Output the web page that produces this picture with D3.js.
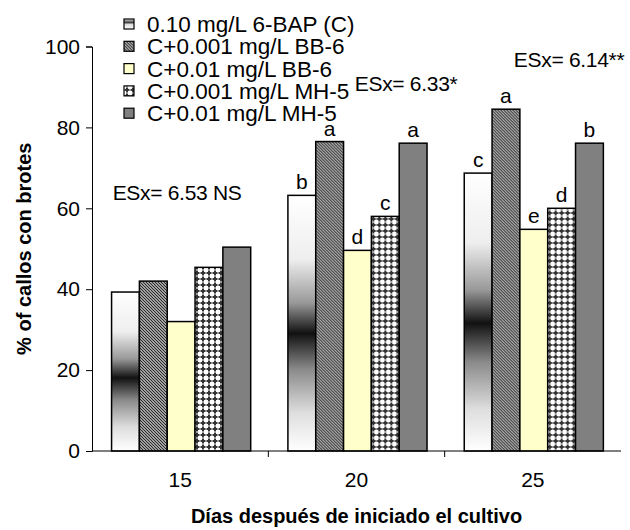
<!DOCTYPE html>
<html>
<head>
<meta charset="utf-8">
<script src="https://cdn.jsdelivr.net/npm/d3@7"></script>
<style>
  body { margin: 0; background: #fff; }
  svg { display: block; font-family: Arial, "Liberation Sans", sans-serif; }
</style>
</head>
<body>
<div id="chart"></div>
<script>
// data
const days = ['15', '20', '25'];
const seriesNames = [
    '0.10 mg/L 6-BAP (C)',
    'C+0.001 mg/L BB-6',
    'C+0.01 mg/L BB-6',
    'C+0.001 mg/L MH-5',
    'C+0.01 mg/L MH-5'
];
const bapC   = [39.3, 63.2, 68.7];
const bb6Low = [42.0, 76.5, 84.5];
const bb6Hi  = [32.0, 49.6, 54.8];
const mh5Low = [45.4, 58.0, 60.0];
const mh5Hi  = [50.4, 76.1, 76.1];
const seriesValues = [bapC, bb6Low, bb6Hi, mh5Low, mh5Hi];

// significance letters per series (index by day), '' = none
const letters = [
    ['', 'b', 'c'],
    ['', 'a', 'a'],
    ['', 'd', 'e'],
    ['', 'c', 'd'],
    ['', 'a', 'b']
];
const yTicks = [0, 20, 40, 60, 80, 100];
const esxLabels = ['ESx= 6.53 NS', 'ESx= 6.33*', 'ESx= 6.14**'];
const esxLevels = [62.0, 89.0, 94.9];   // baseline in y units
const esxOffsets = [0.117, 0.49, 0.392]; // fraction into the day band

const width = 630, height = 530;
const margin = { left: 92, right: 9, top: 46.5, bottom: 79 };

const svg = d3.select('#chart').append('svg')
    .attr('width', width)
    .attr('height', height);

const defs = svg.append('defs');

// white-black-white fill of the control bars
const grad = defs.append('linearGradient')
    .attr('id', 'gradC')
    .attr('x1', 0).attr('y1', 0).attr('x2', 0).attr('y2', 1);
[[0, '#ffffff'], [0.25, '#eeeeee'], [0.42, '#999999'], [0.54, '#111111'],
 [0.68, '#8a8a8a'], [0.85, '#dedede'], [1, '#ffffff']]
    .forEach(s => grad.append('stop').attr('offset', s[0]).attr('stop-color', s[1]));

const gradLeg = defs.append('linearGradient')
    .attr('id', 'gradLeg')
    .attr('x1', 0).attr('y1', 0).attr('x2', 0).attr('y2', 1);
[[0, '#ffffff'], [0.15, '#999999'], [0.35, '#444444'], [0.55, '#dddddd'], [1, '#ffffff']]
    .forEach(s => gradLeg.append('stop').attr('offset', s[0]).attr('stop-color', s[1]));

// fine diagonal hatch
const hatch = defs.append('pattern')
    .attr('id', 'hatch')
    .attr('width', 3).attr('height', 3)
    .attr('patternUnits', 'userSpaceOnUse');
hatch.append('rect').attr('width', 3).attr('height', 3).attr('fill', '#fff');
hatch.append('path')
    .attr('d', 'M-1,-1 L4,4 M-1,2 L1,4 M2,-1 L4,1')
    .attr('stroke', '#2a2a2a')
    .attr('stroke-width', 1.3);

// dotted grid
const dots = defs.append('pattern')
    .attr('id', 'dots')
    .attr('width', 6).attr('height', 6)
    .attr('patternUnits', 'userSpaceOnUse');
dots.append('rect').attr('width', 6).attr('height', 6).attr('fill', '#fff');
dots.append('path')
    .attr('d', 'M2,0.5 h2 v1.5 h1.5 v2 h-1.5 v1.5 h-2 v-1.5 h-1.5 v-2 h1.5 z')
    .attr('fill', '#333');

const fills = ['url(#gradC)', 'url(#hatch)', '#ffffcc', 'url(#dots)', '#808080'];
const legendFills = ['url(#gradLeg)', 'url(#hatch)', '#ffffcc', 'url(#dots)', '#808080'];

// scales
const x0 = d3.scaleBand()
    .domain(days)
    .range([margin.left, width - margin.right])
    .paddingInner(0)
    .paddingOuter(0);

const x1 = d3.scaleBand()
    .domain(d3.range(seriesNames.length))
    .range([x0.bandwidth() * 0.111, x0.bandwidth() * 0.9])
    .padding(0);

const y = d3.scaleLinear()
    .domain([0, 100])
    .range([height - margin.bottom, margin.top]);

// bars
const groups = svg.append('g').selectAll('g')
    .data(days)
    .join('g')
    .attr('transform', d => `translate(${x0(d)},0)`);

const cells = (d, i) => seriesValues.map((vals, s) => ({ s, v: vals[i], letter: letters[s][i] }));

groups.selectAll('rect')
    .data(cells)
    .join('rect')
    .attr('x', d => x1(d.s))
    .attr('y', d => y(d.v))
    .attr('width', x1.bandwidth())
    .attr('height', d => y(0) - y(d.v))
    .attr('fill', d => fills[d.s])
    .attr('stroke', '#000')
    .attr('stroke-width', 1.5);

groups.selectAll('text.letter')
    .data(cells)
    .join('text')
    .attr('class', 'letter')
    .attr('x', d => x1(d.s) + x1.bandwidth() / 2)
    .attr('y', d => y(d.v) - 6)
    .attr('text-anchor', 'middle')
    .style('font-size', '21px')
    .text(d => d.letter);

// y axis
const yAxis = svg.append('g')
    .attr('transform', `translate(${margin.left},0)`)
    .call(d3.axisLeft(y).tickValues(yTicks).tickSize(6).tickPadding(6));
yAxis.select('.domain').attr('stroke', '#000').attr('stroke-width', 1);
yAxis.selectAll('text').style('font-size', '21px').attr('fill', '#000');

// x axis: line, boundary ticks, centred labels
const xAxis = svg.append('g');
xAxis.append('line')
    .attr('x1', margin.left).attr('x2', width - margin.right)
    .attr('y1', y(0)).attr('y2', y(0))
    .attr('stroke', '#000');
xAxis.selectAll('line.tick')
    .data(days.slice(1))
    .join('line')
    .attr('class', 'tick')
    .attr('x1', d => x0(d))
    .attr('x2', d => x0(d))
    .attr('y1', y(0)).attr('y2', y(0) + 6)
    .attr('stroke', '#000');
xAxis.selectAll('text')
    .data(days)
    .join('text')
    .attr('x', d => x0(d) + x0.bandwidth() / 2)
    .attr('y', y(0) + 36)
    .attr('text-anchor', 'middle')
    .style('font-size', '21px')
    .text(d => d);

// axis titles
svg.append('text')
    .attr('x', (margin.left + width - margin.right) / 2)
    .attr('y', 523)
    .attr('text-anchor', 'middle')
    .style('font-size', '20px')
    .style('font-weight', 'bold')
    .text('Días después de iniciado el cultivo');

svg.append('text')
    .attr('transform', `translate(31,${(y(0) + y(100)) / 2}) rotate(-90)`)
    .attr('text-anchor', 'middle')
    .style('font-size', '20px')
    .style('font-weight', 'bold')
    .text('% of callos con brotes');

// ESx annotations
svg.append('g').selectAll('text')
    .data(days)
    .join('text')
    .attr('x', (d, i) => x0(d) + x0.bandwidth() * esxOffsets[i])
    .attr('y', (d, i) => y(esxLevels[i]))
    .style('font-size', '21px')
    .style('letter-spacing', '-0.3px')
    .text((d, i) => esxLabels[i]);

// legend
const legend = svg.append('g').attr('transform', 'translate(124,32)');
const rows = legend.selectAll('g')
    .data(seriesNames)
    .join('g')
    .attr('transform', (d, i) => `translate(0,${i * 22.3})`);
rows.append('rect')
    .attr('x', 0).attr('y', -13)
    .attr('width', 10).attr('height', 10)
    .attr('fill', (d, i) => legendFills[i])
    .attr('stroke', '#000')
    .attr('stroke-width', 1.2);
rows.append('text')
    .attr('x', 23)
    .attr('y', 0)
    .style('font-size', '22.5px')
    .text(d => d);
</script>
</body>
</html>
